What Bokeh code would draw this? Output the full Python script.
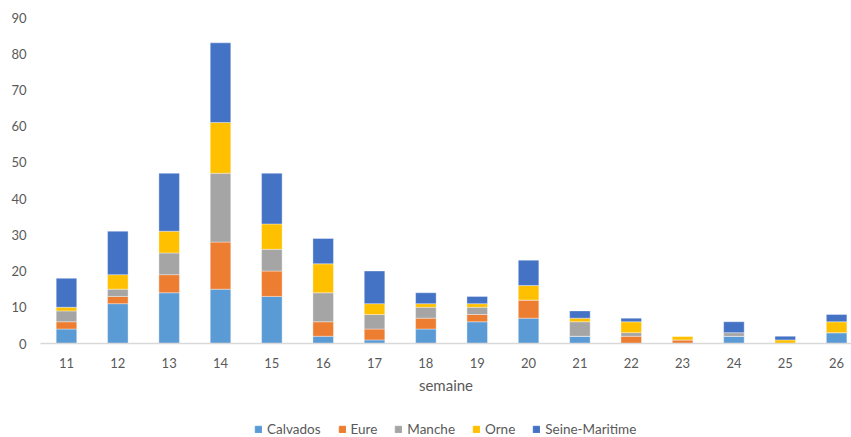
from bokeh.plotting import figure
from bokeh.layouts import column
from bokeh.models import ColumnDataSource, Range1d, FixedTicker, Legend, LegendItem
from bokeh.embed import file_html
from bokeh.resources import INLINE

weeks = [11, 12, 13, 14, 15, 16, 17, 18, 19, 20, 21, 22, 23, 24, 25, 26]
calvados = [4, 11, 14, 15, 13, 2, 1, 4, 6, 7, 2, 0, 0, 2, 0, 3]
eure = [2, 2, 5, 13, 7, 4, 3, 3, 2, 5, 0, 2, 1, 0, 0, 0]
manche = [3, 2, 6, 19, 6, 8, 4, 3, 2, 0, 4, 1, 0, 1, 0, 0]
orne = [1, 4, 6, 14, 7, 8, 3, 1, 1, 4, 1, 3, 1, 0, 1, 3]
seine_maritime = [8, 12, 16, 22, 14, 7, 9, 3, 2, 7, 2, 1, 0, 3, 1, 2]

series_names = ["Calvados", "Eure", "Manche", "Orne", "Seine-Maritime"]
series_keys = ["calvados", "eure", "manche", "orne", "sm"]
colors = ["#5B9BD5", "#ED7D31", "#A5A5A5", "#FFC000", "#4472C4"]
y_ticks = [0, 10, 20, 30, 40, 50, 60, 70, 80, 90]

source = ColumnDataSource(dict(
    week=weeks, calvados=calvados, eure=eure, manche=manche,
    orne=orne, sm=seine_maritime,
))

FONT = "Lato"
GRAY = "#595959"

p = figure(width=851, height=400, output_backend="svg", toolbar_location=None,
           x_range=Range1d(10.494, 26.29), y_range=Range1d(0, 90),
           min_border_left=40, min_border_right=0, min_border_top=17,
           min_border_bottom=57)

p.vbar_stack(series_keys, x="week", width=0.4, color=colors,
             line_color="white", line_width=0.6, line_alpha=0.6,
             source=source)

p.outline_line_color = None
p.background_fill_color = "white"
p.border_fill_color = "white"
p.xgrid.grid_line_color = None
p.ygrid.grid_line_color = None

p.xaxis.ticker = FixedTicker(ticks=weeks)
p.xaxis.axis_line_color = "#D9D9D9"
p.xaxis.axis_line_width = 1.5
p.xaxis.major_tick_line_color = None
p.xaxis.minor_tick_line_color = None
p.xaxis.major_label_text_font = FONT
p.xaxis.major_label_text_font_size = "13px"
p.xaxis.major_label_text_color = GRAY
p.xaxis.major_label_standoff = 8
p.xaxis.axis_label = "semaine"
p.xaxis.axis_label_text_font = FONT
p.xaxis.axis_label_text_font_size = "15px"
p.xaxis.axis_label_text_font_style = "normal"
p.xaxis.axis_label_text_color = GRAY
p.xaxis.axis_label_standoff = 5

p.yaxis.ticker = FixedTicker(ticks=y_ticks)
p.yaxis.axis_line_color = None
p.yaxis.major_tick_line_color = None
p.yaxis.minor_tick_line_color = None
p.yaxis.major_label_text_font = FONT
p.yaxis.major_label_text_font_size = "13px"
p.yaxis.major_label_text_color = GRAY
p.yaxis.major_label_standoff = 8

# Legend strip below the chart (its bars lie outside its visible range)
lg = figure(width=851, height=37, output_backend="svg", toolbar_location=None,
            x_axis_location=None, y_axis_location=None,
            min_border=0, min_border_left=0, min_border_right=0,
            min_border_top=0, min_border_bottom=0,
            x_range=Range1d(0, 1), y_range=Range1d(0, 1))
lg.outline_line_color = None
lg.xgrid.grid_line_color = None
lg.ygrid.grid_line_color = None
legend_renderers = lg.vbar_stack(series_keys, x="week", width=0.4, color=colors, source=source)

legend = Legend(items=[LegendItem(label=n, renderers=[r]) for n, r in zip(series_names, legend_renderers)],
                orientation="horizontal", location=(214, 0),
                glyph_width=8, glyph_height=8, label_standoff=5, spacing=17,
                label_height=12, label_text_baseline="middle",
                label_text_font=FONT, label_text_font_size="13.5px",
                label_text_color=GRAY, border_line_color=None,
                background_fill_alpha=0, padding=0, margin=0)
lg.add_layout(legend, "center")

layout = column(p, lg, spacing=0)
open("out.html", "w").write(file_html(layout, INLINE))
